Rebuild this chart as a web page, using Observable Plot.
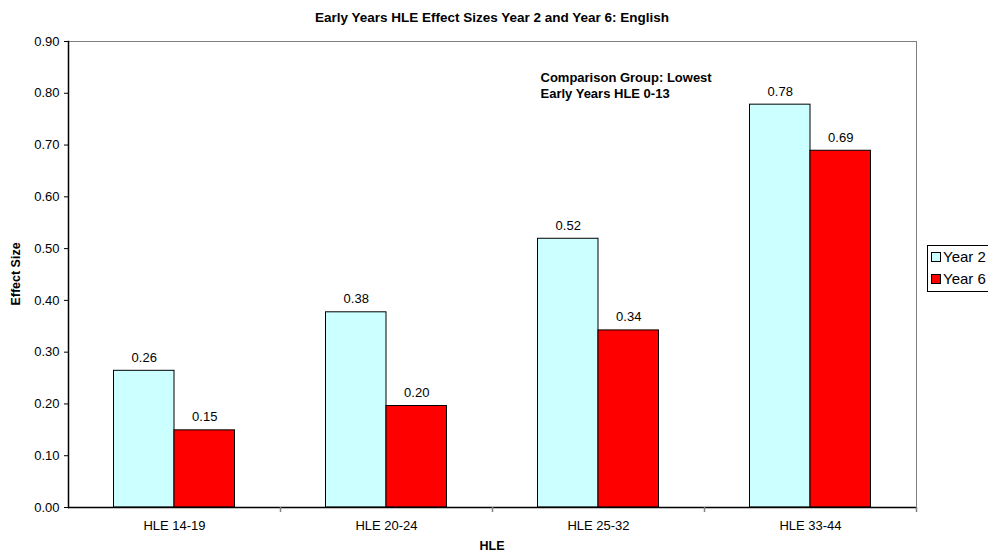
<!DOCTYPE html>
<html>
<head>
<meta charset="utf-8">
<script src="https://cdn.jsdelivr.net/npm/d3@7"></script>
<script src="https://cdn.jsdelivr.net/npm/@observablehq/plot@0.6"></script>
<style>
  html, body { margin: 0; padding: 0; background: #fff; }
  #wrap { position: relative; width: 988px; height: 555px; font-family: "Liberation Sans", Arial, sans-serif; color: #000; }
  #wrap svg { position: absolute; left: 0; top: 0; }
  .title { position: absolute; left: 0; width: 984px; top: 10px; text-align: center; font-weight: bold; font-size: 13.5px; }
  .xlabel { position: absolute; left: 0; width: 984px; top: 539px; text-align: center; font-weight: bold; font-size: 12.5px; }
  .ylabel { position: absolute; left: 16px; top: 274px; transform: translate(-50%, -50%) rotate(-90deg); font-weight: bold; font-size: 12.5px; white-space: nowrap; }
  .legend { position: absolute; left: 927px; top: 245px; width: 70px; height: 47px; border: 1px solid #000; box-sizing: border-box; font-size: 15px; }
  .legend .item { position: absolute; left: 3px; height: 18px; line-height: 18px; white-space: nowrap; }
  .legend .sw { display: inline-block; width: 8px; height: 8px; border: 1px solid #000; margin-right: 2px; vertical-align: 0px; }
</style>
</head>
<body>
<div id="wrap"></div>
<script>
const categories = ["HLE 14-19", "HLE 20-24", "HLE 25-32", "HLE 33-44"];
const seriesNames = ["Year 2", "Year 6"];
const year2 = [0.264, 0.377, 0.519, 0.778];
const year6 = [0.149, 0.196, 0.342, 0.689];
const yTicks = [0, 0.1, 0.2, 0.3, 0.4, 0.5, 0.6, 0.7, 0.8, 0.9];
const colors = ["#ccffff", "#ff0000"];
const titleText = "Early Years HLE Effect Sizes Year 2 and Year 6: English";
const xLabel = "HLE";
const yLabel = "Effect Size";
const note = ["Comparison Group: Lowest", "Early Years HLE 0-13"];

const d2 = categories.map((c, i) => ({cat: c, v: year2[i]}));
const d6 = categories.map((c, i) => ({cat: c, v: year6[i]}));

const W = 988, H = 555;
const mL = 68, mR = 72, mT = 41, mB = 48;
const band = (W - mL - mR) / categories.length;
const barW = 60.5;
const innerInset = band / 2;
const outerInset = band / 2 - barW;

const chart = Plot.plot({
  width: W, height: H,
  marginLeft: mL, marginRight: mR, marginTop: mT, marginBottom: mB,
  style: {fontFamily: '"Liberation Sans", Arial, sans-serif', fontSize: "13px", color: "#000", background: "transparent"},
  x: {type: "band", domain: categories, padding: 0, label: null},
  y: {domain: [0, 0.9], label: null},
  marks: [
    Plot.frame({stroke: "#808080"}),
    Plot.barY(d2, {x: "cat", y: "v", fill: colors[0], stroke: "#000", strokeWidth: 1, insetLeft: outerInset, insetRight: innerInset}),
    Plot.barY(d6, {x: "cat", y: "v", fill: colors[1], stroke: "#000", strokeWidth: 1, insetLeft: innerInset, insetRight: outerInset}),
    Plot.text(d2, {x: "cat", y: "v", text: d => d.v.toFixed(2), dx: -barW / 2, dy: -9, lineAnchor: "bottom", fill: "#000"}),
    Plot.text(d6, {x: "cat", y: "v", text: d => d.v.toFixed(2), dx: barW / 2, dy: -9, lineAnchor: "bottom", fill: "#000"}),
    Plot.ruleY([0], {stroke: "#000", strokeWidth: 1.5}),
    Plot.frame({anchor: "left", stroke: "#000", strokeWidth: 1.5}),
    Plot.ruleX(categories, {x: d => d, dx: band / 2, y1: 0, y2: 0, insetBottom: -5, stroke: "#808080", strokeWidth: 1.5}),
    Plot.axisY(yTicks, {tickFormat: d => d.toFixed(2), tickSize: 4, tickPadding: 5, stroke: "#000", label: null}),
    Plot.axisX({tickSize: 0, tickPadding: 13, label: null}),
    Plot.text([note.join("\n")], {x: () => categories[2], y: () => 0.845, text: d => d, textAnchor: "start", lineAnchor: "top", dx: -58, fontWeight: "bold", fontSize: 13, lineHeight: 1.25})
  ]
});

const wrap = document.getElementById("wrap");
wrap.appendChild(chart);

const t = document.createElement("div"); t.className = "title"; t.textContent = titleText; wrap.appendChild(t);
const xl = document.createElement("div"); xl.className = "xlabel"; xl.textContent = xLabel; wrap.appendChild(xl);
const yl = document.createElement("div"); yl.className = "ylabel"; yl.textContent = yLabel; wrap.appendChild(yl);

const lg = document.createElement("div"); lg.className = "legend";
seriesNames.forEach((s, i) => {
  const it = document.createElement("div"); it.className = "item";
  it.style.top = (2 + i * 22) + "px";
  const sw = document.createElement("span"); sw.className = "sw"; sw.style.background = colors[i];
  it.appendChild(sw); it.appendChild(document.createTextNode(s));
  lg.appendChild(it);
});
wrap.appendChild(lg);
</script>
</body>
</html>
